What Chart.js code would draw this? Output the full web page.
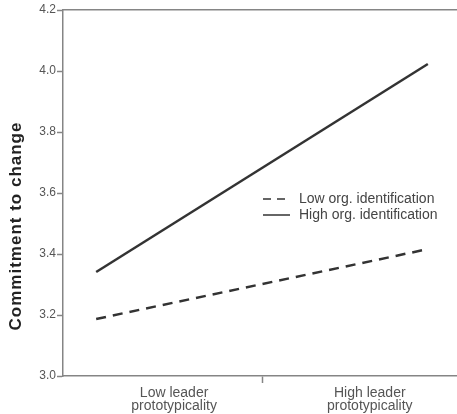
<!DOCTYPE html>
<html>
<head>
<meta charset="utf-8">
<script src="https://cdn.jsdelivr.net/npm/chart.js@4"></script>
<style>
html, body { margin:0; padding:0; overflow:hidden; background:#fff; }
</style>
</head>
<body>
<canvas id="canvas" width="470" height="414"></canvas>
<script>
/* data */
const levels = [-1, 1];
const lowIdent = [3.187, 3.416];
const highIdent = [3.341, 4.023];
const seriesNames = ['Low org. identification', 'High org. identification'];
const catLabels = [['Low leader', 'prototypicality'], ['High leader', 'prototypicality']];
const catPos = [-0.53, 0.65];
const yTicks = [3.0, 3.2, 3.4, 3.6, 3.8, 4.0, 4.2];
const yTitle = 'Commitment to change';

const axisColor = '#858585';
const fontFam = '"Liberation Sans", Arial, sans-serif';

function pts(vals){
    return levels.map(function(x, i){ return {x: x, y: vals[i]}; });
}

/* legend inside the plot + y title (sits lower than centre in the original) */
const extras = {
    id: 'extras',
    afterDraw: function(chart){
        const c = chart.ctx;
        const a = chart.chartArea;
        c.save();
        c.font = '14px ' + fontFam;
        c.textBaseline = 'middle';
        chart.data.datasets.forEach(function(ds, i){
            const y = a.top + 189 + i * 16;
            const x = a.left + 200;
            c.strokeStyle = ds.borderColor;
            c.lineWidth = 1.5;
            c.setLineDash(ds.borderDash ? [8, 6] : []);
            c.beginPath();
            c.moveTo(x, y);
            c.lineTo(x + 27, y);
            c.stroke();
            c.setLineDash([]);
            c.fillStyle = '#444';
            c.fillText(ds.label, x + 36, y);
        });
        c.restore();

        c.save();
        c.translate(16, 226);
        c.rotate(-Math.PI / 2);
        c.font = 'bold 17px ' + fontFam;
        if ('letterSpacing' in c) c.letterSpacing = '1px';
        c.fillStyle = '#222';
        c.textAlign = 'center';
        c.textBaseline = 'middle';
        c.fillText(yTitle, 0, 0);
        c.restore();
    }
};

const ctx = document.getElementById('canvas');
new Chart(ctx, {
    type: 'line',
    data: {
        datasets: [{
            label: seriesNames[0],
            data: pts(lowIdent),
            borderColor: '#333',
            borderWidth: 2.5,
            borderDash: [10, 7],
            pointRadius: 0,
            fill: false
        },
        {
            label: seriesNames[1],
            data: pts(highIdent),
            borderColor: '#333',
            borderWidth: 2.5,
            pointRadius: 0,
            fill: false
        }]
    },
    options: {
        responsive: false,
        animation: false,
        layout: { padding: { top: 10, right: 9, left: 0, bottom: 0 } },
        elements: { line: { tension: 0 } },
        plugins: {
            legend: { display: false },
            tooltip: { enabled: false }
        },
        scales: {
            x: {
                type: 'linear',
                min: -1.2,
                max: 1.2,
                afterBuildTicks: function(axis){
                    axis.ticks = [{value: catPos[0]}, {value: 0}, {value: catPos[1]}];
                },
                afterFit: function(scale){ scale.height = 38; },
                ticks: {
                    autoSkip: false,
                    maxRotation: 0,
                    padding: 3,
                    color: '#555',
                    font: { family: fontFam, size: 14, lineHeight: 0.95 },
                    callback: function(v, i){
                        if (i === 0) return catLabels[0];
                        if (i === 2) return catLabels[1];
                        return '';
                    }
                },
                grid: {
                    drawOnChartArea: false,
                    tickLength: 7,
                    tickWidth: 1.5,
                    tickColor: function(c){
                        return (c.tick && c.tick.value === 0) ? axisColor : 'rgba(0,0,0,0)';
                    }
                },
                border: { color: axisColor, width: 1.5 }
            },
            xTop: {
                type: 'linear',
                position: 'top',
                min: -1.2,
                max: 1.2,
                ticks: { display: false },
                grid: { drawOnChartArea: false, drawTicks: false },
                border: { color: axisColor, width: 1.5 }
            },
            y: {
                min: 3.0,
                max: 4.2,
                afterBuildTicks: function(axis){
                    axis.ticks = yTicks.map(function(v){ return {value: v}; });
                },
                afterFit: function(scale){ scale.width = 63; },
                ticks: {
                    padding: 1,
                    color: '#555',
                    font: { family: fontFam, size: 12 },
                    callback: function(v){ return v.toFixed(1); }
                },
                grid: {
                    drawOnChartArea: false,
                    tickLength: 6,
                    tickWidth: 1.5,
                    tickColor: axisColor
                },
                border: { color: axisColor, width: 1.5 }
            }
        }
    },
    plugins: [extras]
});
</script>
</body>
</html>
